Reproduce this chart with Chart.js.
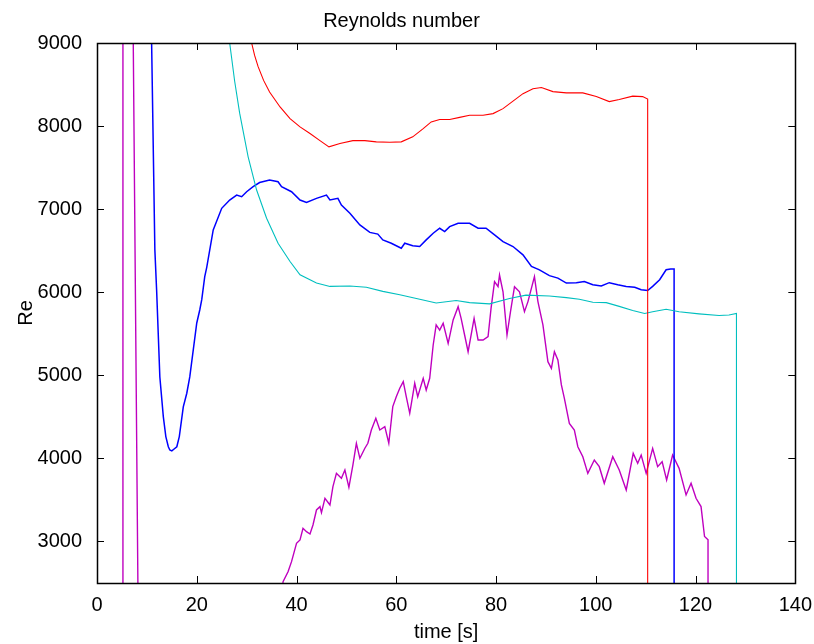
<!DOCTYPE html>
<html>
<head>
<meta charset="utf-8">
<title>Reynolds number</title>
<script src="https://cdn.jsdelivr.net/npm/chart.js@4"></script>
<style>
  body{ margin:0; background:#fff; }
  #wrap{ width:814px; height:644px; position:relative; }
</style>
</head>
<body>
<div id="wrap"><canvas id="chart"></canvas></div>
<script>
// ---------------- DATA ----------------
const xTicks = [0,20,40,60,80,100,120,140];
const yTicks = [3000,4000,5000,6000,7000,8000,9000];

// blue run
const blueT  = [10.0,10.95,11.6,11.95,12.6,13.3,13.8,14.3,14.6,15.0,
                15.4,16.0,16.5,17.3,18.0,18.6,19.3,20.0,20.6,21.0,
                21.6,22.0,23.3,25.0,26.6,28.0,29.0,30.0,
                31.3,32.6,34.6,36.3,37.0,39.0,40.7,42.0,44.0,46.0,
                46.7,48.3,49.0,50.7,52.7,54.7,56.3,57.3,59.0,61.0,
                61.7,63.3,64.7,66.0,67.4,68.7,69.7,70.7,72.4,74.7,
                76.4,78.0,79.7,81.4,83.4,85.4,87.1,88.7,90.7,92.4,
                94.1,96.1,97.7,99.4,101.1,102.7,104.4,106.1,107.8,109.1,
                110.4,111.4,112.8,114.1,115.0,115.7,115.7];
const blueRe = [11500,9000,6510,6030,4980,4500,4262,4140,4101,4090,
                4110,4140,4262,4620,4784,4980,5305,5630,5786,5910,
                6187,6300,6750,7010,7110,7170,7150,7210,
                7270,7320,7350,7330,7270,7210,7110,7080,7130,7170,
                7110,7130,7050,6950,6810,6720,6700,6630,6590,6530,
                6590,6560,6550,6630,6710,6770,6730,6790,6830,6830,
                6770,6770,6690,6610,6550,6450,6310,6270,6200,6170,
                6110,6115,6130,6090,6075,6115,6090,6070,6060,6030,
                6020,6070,6150,6270,6280,6280,0];

// red run
const redT  = [29.5,31.0,31.6,32.3,33.4,34.6,36.7,38.7,40.7,42.7,44.7,46.5,
               48.7,51.3,53.7,56.0,58.7,61.0,63.3,65.4,67.0,68.7,
               70.7,72.7,74.7,77.4,79.4,81.4,83.4,85.4,87.4,89.1,
               91.4,94.1,97.4,100.1,102.7,104.7,107.4,109.4,110.4,110.4];
const redRe = [9900,9000,8850,8715,8550,8410,8230,8090,7990,7910,7825,7750,
               7790,7825,7825,7810,7805,7810,7870,7970,8050,8080,
               8080,8105,8130,8130,8150,8210,8300,8390,8450,8465,
               8415,8400,8400,8355,8295,8320,8360,8355,8325,0];

// cyan run
const cyanT  = [25.5,26.6,27.6,28.6,30.3,32.0,34.0,36.3,38.7,40.7,44.0,
                46.7,50.7,54.0,57.3,60.7,64.7,68.0,72.0,74.7,78.7,
                82.7,86.0,90.7,94.1,96.7,99.4,102.1,104.7,107.4,109.8,
                111.4,114.1,116.7,120.7,124.7,126.7,128.2,128.2];
const cyanRe = [9700,9000,8540,8155,7630,7230,6890,6590,6370,6210,6110,
                6070,6075,6060,6010,5970,5915,5870,5900,5875,5860,
                5925,5965,5955,5935,5915,5880,5875,5830,5780,5745,
                5765,5795,5765,5740,5720,5725,5745,0];

// magenta run
const magT  = [5.2,5.2,6.98,7.27,8.2,8.6,
               36.6,37.3,38.3,39.0,40.0,40.7,41.3,42.0,42.7,43.3,
               44.0,44.7,45.0,45.7,46.7,47.3,48.0,49.0,49.7,50.5,
               51.3,52.0,52.7,53.7,54.3,55.0,55.9,56.7,57.7,58.5,
               59.3,60.0,60.7,61.4,62.0,62.7,63.7,64.3,65.4,66.0,
               66.7,67.4,68.0,68.7,69.4,70.4,71.4,72.4,73.0,73.7,
               74.4,75.6,76.4,77.4,78.4,79.0,79.7,80.4,80.7,81.4,
               82.2,82.9,83.7,84.7,85.7,86.4,87.7,88.4,89.4,90.4,
               91.1,91.7,92.4,93.1,93.7,
               94.7,95.7,96.4,97.4,98.4,99.7,100.7,101.7,103.4,104.7,
               106.1,107.5,108.4,109.1,110.1,111.4,112.4,113.3,114.2,115.4,
               116.7,118.1,119.1,120.1,121.1,121.8,122.5,122.5];
const magRe = [0,12000,11000,9000,2500,0,
               2000,2516,2636,2757,2978,3018,3159,3118,3090,3198,
               3379,3419,3347,3520,3439,3660,3820,3760,3860,3652,
               3920,4182,4001,4122,4182,4342,4483,4342,4382,4182,
               4623,4743,4844,4924,4743,4543,4904,4743,4964,4823,
               4964,5365,5606,5545,5626,5385,5666,5826,5686,5485,
               5284,5686,5425,5425,5465,5806,6127,6067,6207,6006,
               5485,5766,6067,6006,5766,5887,6187,5887,5606,5164,
               5084,5285,5184,4884,4723,
               4420,4340,4140,4020,3820,3980,3900,3700,4020,3860,
               3620,4060,3940,4040,3820,4120,3900,3960,3740,4040,
               3880,3560,3700,3520,3420,3060,3020,0];

const FONT = "'Liberation Sans', Arial, sans-serif";

function pts(ts, vs){
  return ts.map((t,i) => ({x:t, y:vs[i]}));
}

// matlab style box + inward ticks on all four sides
const boxPlugin = {
  id:"box",
  afterDraw(chart){
    const ctx = chart.ctx;
    const a = chart.chartArea;
    const sx = chart.scales.x, sy = chart.scales.y;
    const L = 7;
    ctx.save();
    ctx.strokeStyle = "#000";
    ctx.lineWidth = 1;
    ctx.beginPath();
    xTicks.forEach(v => {
      const px = Math.round(sx.getPixelForValue(v)) + 0.5;
      ctx.moveTo(px, a.bottom); ctx.lineTo(px, a.bottom - L);
      ctx.moveTo(px, a.top);    ctx.lineTo(px, a.top + L);
    });
    yTicks.forEach(v => {
      const py = Math.round(sy.getPixelForValue(v)) + 0.5;
      ctx.moveTo(a.left, py);  ctx.lineTo(a.left + L, py);
      ctx.moveTo(a.right, py); ctx.lineTo(a.right - L, py);
    });
    ctx.stroke();
    ctx.lineWidth = 1.5;
    ctx.strokeRect(Math.round(a.left)+0.5, Math.round(a.top)+0.5,
                   Math.round(a.right-a.left), Math.round(a.bottom-a.top));
    ctx.restore();
  }
};

function ds(data, color, w){
  return { data, borderColor:color, borderWidth:w, pointRadius:0,
           tension:0, fill:false };
}

new Chart(document.getElementById("chart"), {
  type:"line",
  data:{
    datasets:[
      ds(pts(redT, redRe), "#ff0000", 1.1),
      ds(pts(cyanT, cyanRe), "#00bfbf", 1.1),
      ds(pts(blueT, blueRe), "#0000ff", 1.5),
      ds(pts(magT, magRe), "#bf00bf", 1.4)
    ]
  },
  options:{
    responsive:true,
    maintainAspectRatio:false,
    animation:false,
    devicePixelRatio:1,
    layout:{ padding:{ left:0, right:11, top:0, bottom:0 } },
    plugins:{
      legend:{ display:false },
      tooltip:{ enabled:false },
      title:{
        display:true,
        text:"Reynolds number",
        color:"#000",
        font:{ family:FONT, size:20, weight:"normal" },
        padding:{ top:9, bottom:10 }
      }
    },
    scales:{
      x:{
        type:"linear",
        min:0, max:140,
        afterBuildTicks: s => { s.ticks = xTicks.map(v => ({value:v})); },
        afterFit: s => { s.height = 61; },
        grid:{ display:false },
        border:{ display:false },
        ticks:{ color:"#000", padding:2, maxRotation:0,
                font:{ family:FONT, size:20 } },
        title:{ display:true, text:"time [s]", color:"#000",
                font:{ family:FONT, size:20 }, padding:{ top:0, bottom:0 } }
      },
      y:{
        type:"linear",
        min:2500, max:9000,
        afterBuildTicks: s => { s.ticks = yTicks.map(v => ({value:v})); },
        afterFit: s => { s.width = 97; },
        grid:{ display:false },
        border:{ display:false },
        ticks:{ color:"#000", padding:7,
                callback: v => String(v),
                font:{ family:FONT, size:20 } },
        title:{ display:true, text:"Re", color:"#000",
                font:{ family:FONT, size:20 }, padding:{ top:14, bottom:0 } }
      }
    }
  },
  plugins:[boxPlugin]
});
</script>
</body>
</html>
